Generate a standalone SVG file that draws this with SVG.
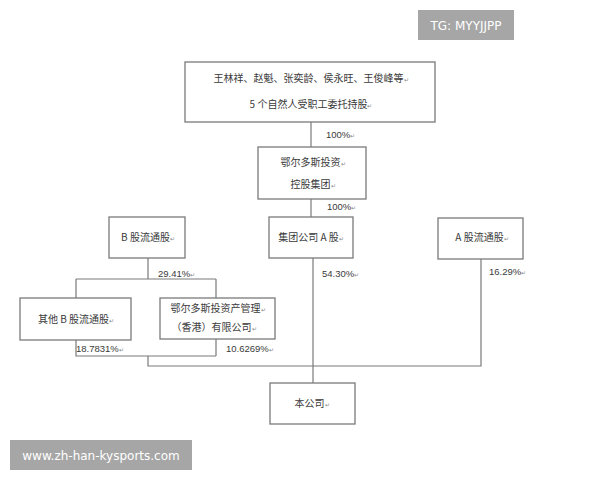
<svg xmlns="http://www.w3.org/2000/svg" width="600" height="480" viewBox="0 0 600 480">
<style>
.box{fill:#fff;stroke:#7a7a7a;stroke-width:1.3}
.t{font-family:"Noto Sans CJK SC","Liberation Sans",sans-serif;font-size:10px;fill:#3a3a3a;text-anchor:middle}
.p{font-family:"Liberation Sans","Noto Sans",sans-serif;font-size:9.5px;fill:#3a3a3a}
.m{font-size:6px;fill:#888}
.ln{fill:none;stroke:#7a7a7a;stroke-width:1.2}
.wm{fill:#a6a6a6}
.wt{font-family:"DejaVu Sans","Liberation Sans",sans-serif;font-size:12px;fill:#fff}
</style>
<rect width="600" height="480" fill="#fff"/>
<g id="connectors">
<path class="ln" d="M311 122V147"/>
<path class="ln" d="M311 199V217"/>
<path class="ln" d="M313 258V383"/>
<path class="ln" d="M148 258V279M76 279H216M76 279V298M216 279V298"/>
<path class="ln" d="M76 340V356H216M216 339V356M148 356V366H481V259"/>
</g>
<g id="labels">
<text class="p" x="326" y="138">100%<tspan class="m">↵</tspan></text>
<text class="p" x="327" y="210">100%<tspan class="m">↵</tspan></text>
<text class="p" x="158" y="277">29.41%<tspan class="m">↵</tspan></text>
<text class="p" x="322" y="277">54.30%<tspan class="m">↵</tspan></text>
<text class="p" x="489" y="275">16.29%<tspan class="m">↵</tspan></text>
<text class="p" x="76" y="352">18.7831%<tspan class="m">↵</tspan></text>
<text class="p" x="226" y="352">10.6269%<tspan class="m">↵</tspan></text>
</g>
<g id="n-top">
<rect class="box" x="185" y="62" width="250" height="60"/>
<text class="t" x="311" y="82">王林祥、赵魁、张奕龄、侯永旺、王俊峰等<tspan class="m">↵</tspan></text>
<text class="t" x="311" y="108">5 个自然人受职工委托持股<tspan class="m">↵</tspan></text>
</g>
<g id="n-group">
<rect class="box" x="258" y="147" width="108" height="52"/>
<text class="t" x="313" y="166">鄂尔多斯投资<tspan class="m">↵</tspan></text>
<text class="t" x="313" y="188">控股集团<tspan class="m">↵</tspan></text>
</g>
<g id="n-b">
<rect class="box" x="109" y="217" width="76" height="41"/>
<text class="t" x="148" y="241">B 股流通股<tspan class="m">↵</tspan></text>
</g>
<g id="n-groupa">
<rect class="box" x="269" y="217" width="84" height="41"/>
<text class="t" x="311" y="241">集团公司 A 股<tspan class="m">↵</tspan></text>
</g>
<g id="n-a">
<rect class="box" x="438" y="218" width="85" height="41"/>
<text class="t" x="482" y="241">A 股流通股<tspan class="m">↵</tspan></text>
</g>
<g id="n-otherb">
<rect class="box" x="20" y="298" width="111" height="42"/>
<text class="t" x="76" y="323">其他 B 股流通股<tspan class="m">↵</tspan></text>
</g>
<g id="n-hk">
<rect class="box" x="160" y="298" width="115" height="41"/>
<text class="t" x="218" y="312">鄂尔多斯投资产管理<tspan class="m">↵</tspan></text>
<text class="t" x="214" y="331">（香港）有限公司<tspan class="m">↵</tspan></text>
</g>
<g id="n-company">
<rect class="box" x="270" y="383" width="85" height="41"/>
<text class="t" x="312" y="407">本公司<tspan class="m">↵</tspan></text>
</g>
<g id="watermarks">
<rect class="wm" x="418" y="10" width="96" height="30"/>
<text class="wt" x="466" y="30" text-anchor="middle">TG: MYYJJPP</text>
<rect class="wm" x="10" y="440" width="182" height="30"/>
<text class="wt" x="101" y="460" text-anchor="middle">www.zh-han-kysports.com</text>
</g>
</svg>
